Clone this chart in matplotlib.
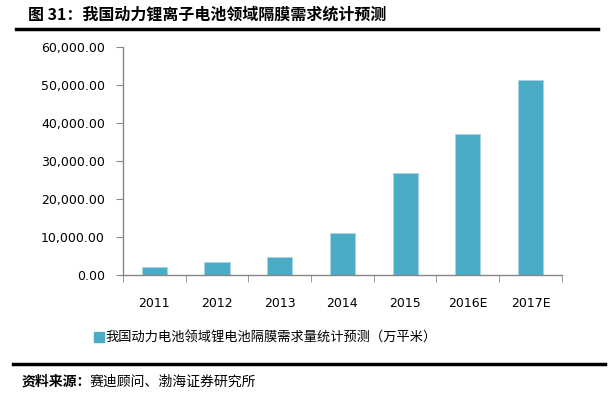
import matplotlib.pyplot as plt
from matplotlib.ticker import FuncFormatter
from matplotlib.lines import Line2D

plt.rcParams['font.family'] = ['Noto Sans CJK SC', 'DejaVu Sans']

years = ['2011', '2012', '2013', '2014', '2015', '2016E', '2017E']
demand = [2000, 3500, 4650, 11000, 26900, 37100, 51300]
yticks = [0, 10000, 20000, 30000, 40000, 50000, 60000]

title = '图 31：我国动力锂离子电池领域隔膜需求统计预测'
series_name = '我国动力电池领域锂电池隔膜需求量统计预测（万平米）'
source_head = '资料来源：'
source_body = '赛迪顾问、渤海证券研究所'

bar_color = '#4BACC6'
axis_color = '#868686'

fig = plt.figure(figsize=(6.14, 3.98), dpi=100)
ax = fig.add_axes([0.2003, 0.309, 0.7147, 0.573])

x = range(len(years))
ax.bar(x, demand, width=0.4, color=bar_color, edgecolor='#A9D4E2', linewidth=0.6,
       label=series_name)

ax.set_xlim(-0.5, len(years) - 0.5)
ax.set_ylim(0, 60000)
ax.set_yticks(yticks)
ax.yaxis.set_major_formatter(FuncFormatter(lambda v, p: f'{v:,.2f}'))
ax.set_xticks(x)
ax.set_xticklabels(years)
ax.set_xticks([i - 0.5 for i in range(len(years) + 1)], minor=True)

for s in ['top', 'right']:
    ax.spines[s].set_visible(False)
for s in ['left', 'bottom']:
    ax.spines[s].set_color(axis_color)
    ax.spines[s].set_linewidth(1.0)

ax.tick_params(axis='y', length=5, color=axis_color, labelsize=9, pad=8,
               labelcolor='black')
ax.tick_params(axis='x', which='major', length=0, labelsize=9, pad=16,
               labelcolor='black')
ax.tick_params(axis='x', which='minor', length=5, color=axis_color)
for lbl in ax.get_xticklabels() + ax.get_yticklabels():
    lbl.set_family(['DejaVu Sans'])

leg = fig.legend(handles=[Line2D([0], [0], marker='s', linestyle='none',
                                 markerfacecolor=bar_color, markeredgecolor=bar_color,
                                 markersize=7)],
                 labels=[series_name], loc='center left',
                 bbox_to_anchor=(0.152, 1 - 338 / 398), frameon=False,
                 fontsize=9.5, handletextpad=0.1, borderaxespad=0, borderpad=0,
                 handlelength=0.8)

fig.text(28 / 614, 1 - 15 / 398, title, fontsize=11.5, fontweight='bold',
         va='center', ha='left')
fig.add_artist(Line2D([16 / 614, 598 / 614], [1 - 29 / 398, 1 - 29 / 398],
                      color='black', linewidth=2.5))
fig.add_artist(Line2D([13 / 614, 605 / 614], [1 - 364 / 398, 1 - 364 / 398],
                      color='black', linewidth=2.5))
fig.text(22 / 614, 1 - 382 / 398, source_head, fontsize=10, fontweight='bold',
         va='center', ha='left')
fig.text(90 / 614, 1 - 382 / 398, source_body, fontsize=10,
         va='center', ha='left')

fig.savefig('out.png', dpi=100)
